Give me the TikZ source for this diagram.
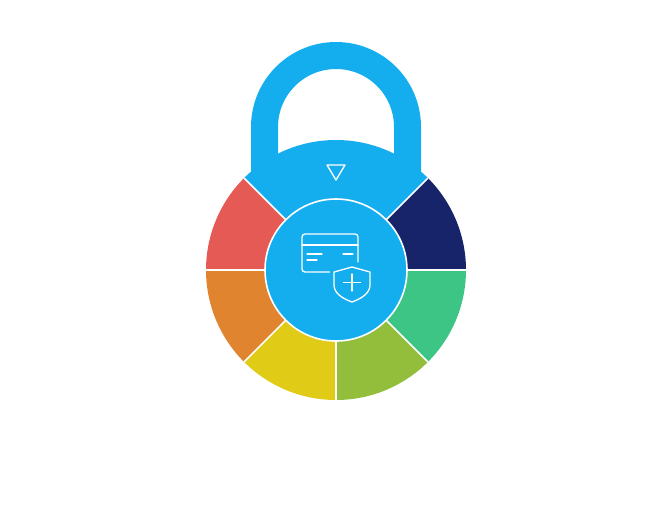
\documentclass[tikz,border=0pt]{standalone}
\begin{document}
\begin{tikzpicture}[x=1pt,y=-1pt]
  \definecolor{lockblue}{HTML}{14AEEF}
  \tikzset{sector/.style={draw=white, line width=1.6pt},
           icon/.style={draw=white, line width=1.3pt, line cap=round, line join=round}}
  \useasboundingbox (0,0) rectangle (672,507);
  % shackle
  \draw[lockblue, line width=27pt] (264.5,210) -- (264.5,127) arc (180:360:71.5) -- (407.5,210);
  % ring sectors (screen angles a:b, drawn with y flipped)
  \foreach \a/\b/\c in {45/135/14AEEF, 0/45/172469, -45/0/3CC584, -90/-45/93BE3C,
                        -135/-90/E0CB17, 180/225/E08430, 135/180/E65A55}{
    \definecolor{sc}{HTML}{\c}
    \fill[sc] (336,270) -- ++({cos(\a)*130},{-sin(\a)*130})
      arc ({-\a}:{-\b}:130) -- cycle;
  }
  \foreach \a in {45,0,-45,-90,-135,180,135}
    \draw[sector] (336,270) -- ++({cos(\a)*130},{-sin(\a)*130});
  % centre disc
  \fill[lockblue] (336,270) circle (71);
  \draw[sector] (336,270) circle (71);
  % marker
  \draw[icon] (327,165) -- (345,165) -- (336,180) -- cycle;
  % card
  \draw[icon, rounded corners=3pt] (331,272) -- (302,272) -- (302,234) -- (358,234) -- (358,262);
  \draw[icon] (302,245) -- (358,245);
  \draw[icon] (307,254) -- (322,254);
  \draw[icon] (307,260) -- (317,260);
  \draw[icon] (343,254) -- (353,254);
  % shield
  \fill[lockblue] (352,264) -- (374,270) -- (374,285) .. controls (374,296) and (362,302) .. (352,305)
    .. controls (342,302) and (330,296) .. (330,285) -- (330,270) -- cycle;
  \draw[icon] (352,267) -- (370,272) -- (370,285) .. controls (370,294) and (360,299) .. (352,302)
    .. controls (344,299) and (334,294) .. (334,285) -- (334,272) -- cycle;
  \draw[icon] (352,274) -- (352,291);
  \draw[icon] (343.5,282.5) -- (360.5,282.5);
\end{tikzpicture}
\end{document}
